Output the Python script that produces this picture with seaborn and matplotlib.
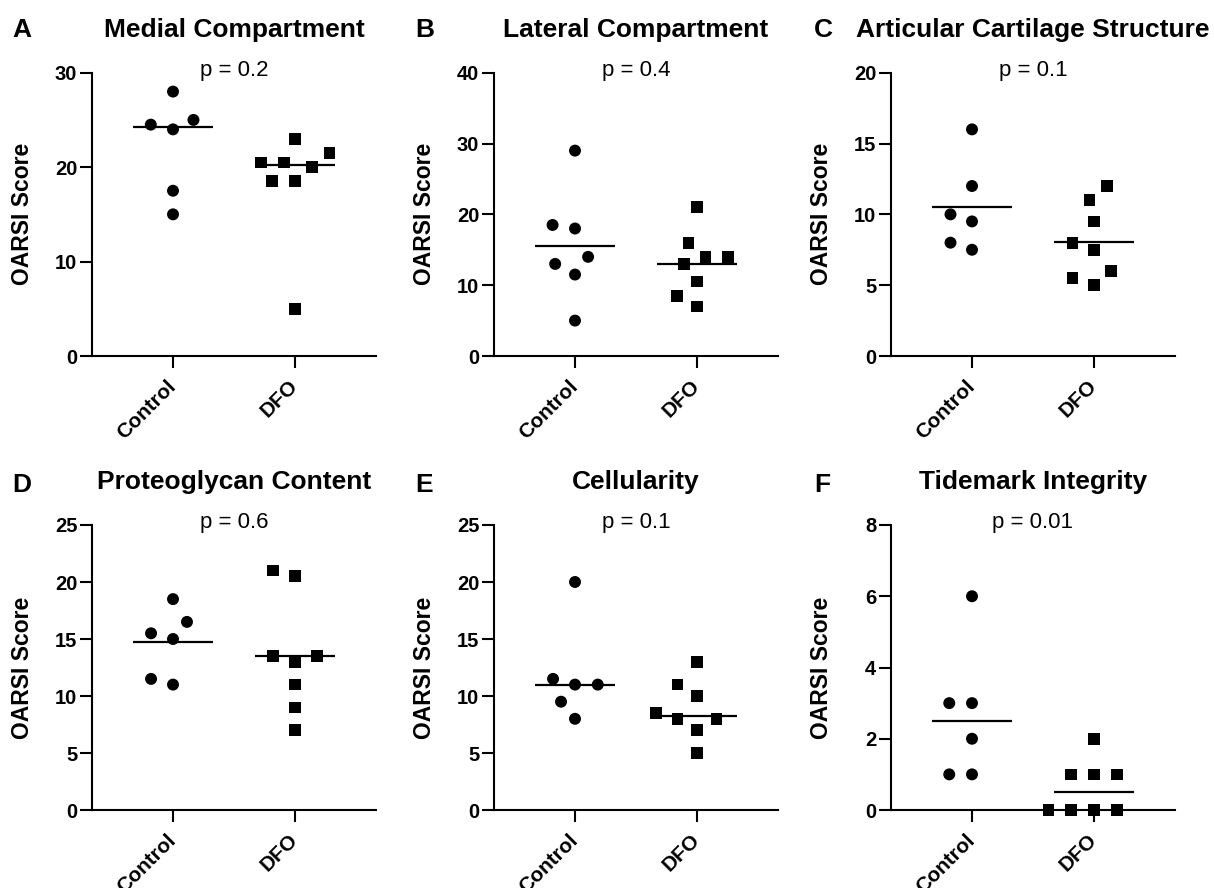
import numpy as np
import pandas as pd
import matplotlib
matplotlib.use("Agg")
import matplotlib.pyplot as plt
import matplotlib.transforms as mtrans
import seaborn as sns

# ---------------- data ----------------
groups = ["Control", "DFO"]
titles = ["Medial Compartment", "Lateral Compartment", "Articular Cartilage Structure",
          "Proteoglycan Content", "Cellularity", "Tidemark Integrity"]
letters = ["A", "B", "C", "D", "E", "F"]
p_labels = ["p = 0.2", "p = 0.4", "p = 0.1", "p = 0.6", "p = 0.1", "p = 0.01"]

control_A = [28, 25, 24.5, 24, 17.5, 15]
dfo_A = [23, 21.5, 20.5, 20.5, 20, 18.5, 18.5, 5]
control_B = [29, 18.5, 18, 14, 13, 11.5, 5]
dfo_B = [21, 16, 14, 14, 13, 10.5, 8.5, 7]
control_C = [16, 12, 10, 9.5, 8, 7.5]
dfo_C = [12, 11, 9.5, 8, 7.5, 6, 5.5, 5]
control_D = [18.5, 16.5, 15.5, 15, 11.5, 11]
dfo_D = [21, 20.5, 13.5, 13.5, 13, 11, 9, 7]
control_E = [20, 11.5, 11, 11, 9.5, 8]
dfo_E = [13, 11, 10, 8.5, 8, 8, 7, 5]
control_F = [6, 3, 3, 2, 1, 1]
dfo_F = [2, 1, 1, 1, 0, 0, 0, 0]

# horizontal summary lines as drawn in the reference
center_control = [24.25, 15.6, 10.5, 14.7, 11.0, 2.5]
center_dfo = [20.25, 13.0, 8.05, 13.55, 8.25, 0.5]

y_max = [30, 40, 20, 25, 25, 8]
y_step = [10, 10, 5, 5, 5, 2]

controls = [control_A, control_B, control_C, control_D, control_E, control_F]
dfos = [dfo_A, dfo_B, dfo_C, dfo_D, dfo_E, dfo_F]

# ---------------- style ----------------
sns.set_style("ticks")
plt.rcParams["font.family"] = ["Liberation Sans", "DejaVu Sans"]
for key in ["text.color", "axes.labelcolor", "xtick.color", "ytick.color", "axes.edgecolor"]:
    plt.rcParams[key] = "black"
plt.rcParams["axes.linewidth"] = 1.5

W, H = 1214, 888
fig = plt.figure(figsize=(W / 100, H / 100), dpi=100)

col_left = [92, 494, 891]
row_top = [72.7, 525]
row_bottom = [356, 810]
ax_w = 284
letter_x = [12, 415, 814]
letter_base = [37, 492]

shift = mtrans.ScaledTranslation(-0.07, -0.03, fig.dpi_scale_trans)

for i in range(6):
    r, c = divmod(i, 3)
    rect = [col_left[c] / W, 1 - row_bottom[r] / H, ax_w / W, (row_bottom[r] - row_top[r]) / H]
    ax = fig.add_axes(rect)

    df_c = pd.DataFrame({"group": ["Control"] * len(controls[i]), "score": controls[i]})
    df_d = pd.DataFrame({"group": ["DFO"] * len(dfos[i]), "score": dfos[i]})

    sns.swarmplot(data=df_c, x="group", y="score", order=groups, ax=ax,
                  marker="o", color="black", size=8.6, linewidth=7.0,
                  edgecolor="none", zorder=4)
    sns.swarmplot(data=df_d, x="group", y="score", order=groups, ax=ax,
                  marker="s", color="black", size=8.4, linewidth=7.2,
                  edgecolor="none", zorder=4)
    for coll in list(ax.collections):
        if len(coll.get_offsets()) == 0:
            coll.remove()
        else:
            coll.set_edgecolor("none")
            coll.set_clip_on(False)

    for j, cv in enumerate([center_control[i], center_dfo[i]]):
        ax.hlines(cv, j - 0.33, j + 0.33, color="black", lw=1.6, zorder=3)

    ax.set_xlim(-0.664, 1.664)
    ax.set_ylim(0, y_max[i])
    ax.set_yticks(np.arange(0, y_max[i] + y_step[i] / 2, y_step[i]))
    ax.set_xticks([0, 1])
    ax.tick_params(axis="both", length=8.6, width=1.5, direction="out", pad=2,
                   labelsize=14.5, colors="black")
    ax.tick_params(axis="x", pad=4)
    ax.set_xticklabels(groups, rotation=45, ha="right", va="top",
                       rotation_mode="anchor", fontweight="bold", fontsize=15)
    for lbl in ax.get_xticklabels():
        lbl.set_transform(lbl.get_transform() + shift)
    for lbl in ax.get_yticklabels():
        lbl.set_fontweight("bold")
    ax.set_xlabel("")
    ax.set_ylabel("OARSI Score", fontweight="bold", fontsize=16.5)
    ax.yaxis.set_label_coords(-0.205, 0.5)
    sns.despine(ax=ax)
    for s in ["left", "bottom"]:
        ax.spines[s].set_linewidth(1.5)
        ax.spines[s].set_color("black")
    ax.set_title(titles[i], fontsize=19, fontweight="bold", pad=26, color="black")
    ax.text(0.5, 0.99, p_labels[i], transform=ax.transAxes, ha="center",
            va="baseline", fontsize=16, color="black")

    fig.text(letter_x[c] / W, 1 - letter_base[r] / H, letters[i], fontsize=19,
             fontweight="bold", va="baseline", ha="left", color="black")

fig.savefig("out.png", dpi=100, facecolor="white")
